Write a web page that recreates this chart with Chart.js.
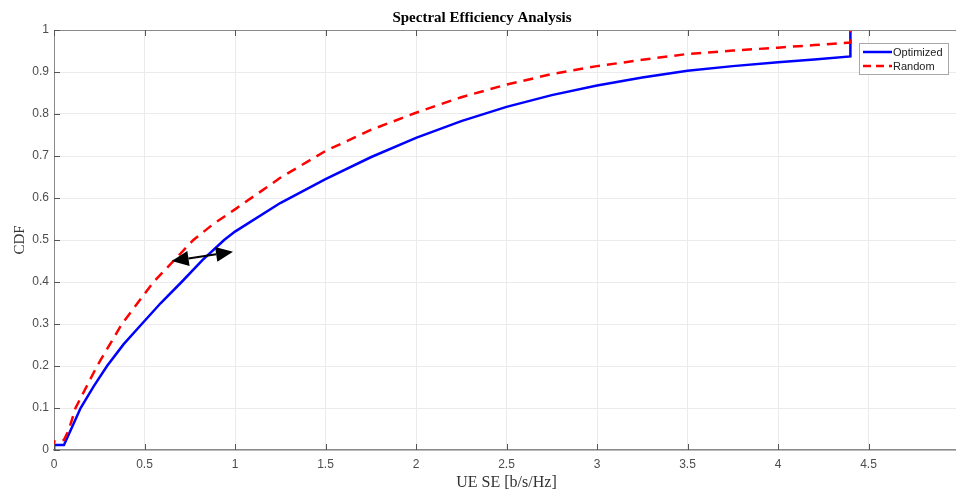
<!DOCTYPE html>
<html>
<head>
<meta charset="utf-8">
<script src="https://cdn.jsdelivr.net/npm/chart.js@4.4.0/dist/chart.umd.min.js"></script>
<style>
  html, body { margin: 0; padding: 0; background: #fff; overflow: hidden; }
</style>
</head>
<body>
<canvas id="seChart" width="966" height="491"></canvas>
<script>
// values
const seOpt  = [0, 0, 0.055, 0.1, 0.147, 0.22, 0.293, 0.385, 0.485, 0.59, 0.705, 0.82, 0.94, 1.0, 1.25, 1.5, 1.75, 2.0, 2.25, 2.5, 2.75, 3.0, 3.25, 3.5, 3.75, 4.0, 4.2, 4.4, 4.4];
const cdfOpt = [0, 0.012, 0.012, 0.055, 0.1, 0.152, 0.2, 0.252, 0.3, 0.35, 0.4, 0.452, 0.5, 0.52, 0.588, 0.645, 0.697, 0.743, 0.783, 0.817, 0.845, 0.868, 0.887, 0.903, 0.914, 0.923, 0.93, 0.937, 1.0];

const seRnd  = [0, 0, 0.055, 0.082, 0.119, 0.238, 0.375, 0.55, 0.66, 0.77, 0.88, 1.0, 1.25, 1.5, 1.75, 2.0, 2.25, 2.5, 2.75, 3.0, 3.25, 3.5, 3.75, 4.0, 4.2, 4.4, 4.4];
const cdfRnd = [0, 0.02, 0.024, 0.048, 0.1, 0.2, 0.3, 0.4, 0.45, 0.5, 0.538, 0.573, 0.648, 0.712, 0.762, 0.803, 0.84, 0.870, 0.895, 0.914, 0.929, 0.943, 0.951, 0.958, 0.964, 0.97, 1.0];

const seriesNames = ['Optimized', 'Random'];
const xTickLabels = ['0', '0.5', '1', '1.5', '2', '2.5', '3', '3.5', '4', '4.5', ''];
const yTickLabels = ['0', '0.1', '0.2', '0.3', '0.4', '0.5', '0.6', '0.7', '0.8', '0.9', '1'];

// double arrow annotation (data coords)
const arrowSE  = [0.65, 0.989];
const arrowCDF = [0.45, 0.472];

function toPoints(xs, ys) {
  return xs.map((v, i) => ({x: v, y: ys[i]}));
}

const axisGray = '#8a8a8a';

// arrow, top border, inward ticks and the boxed legend (matlab look)
const matlabBits = {
  id: 'matlabBits',
  afterDatasetsDraw(chart) {
    const {ctx, chartArea: a, scales: {x, y}} = chart;
    ctx.save();

    // double headed arrow
    const x1 = x.getPixelForValue(arrowSE[0]), y1 = y.getPixelForValue(arrowCDF[0]);
    const x2 = x.getPixelForValue(arrowSE[1]), y2 = y.getPixelForValue(arrowCDF[1]);
    const ang = Math.atan2(y2 - y1, x2 - x1);
    const headLen = 17, headW = 7.5;
    ctx.strokeStyle = '#000';
    ctx.fillStyle = '#000';
    ctx.lineWidth = 2;
    ctx.beginPath();
    ctx.moveTo(x1 + Math.cos(ang) * headLen, y1 + Math.sin(ang) * headLen);
    ctx.lineTo(x2 - Math.cos(ang) * headLen, y2 - Math.sin(ang) * headLen);
    ctx.stroke();
    function head(px, py, dir) {
      const bx = px - Math.cos(dir) * headLen, by = py - Math.sin(dir) * headLen;
      ctx.beginPath();
      ctx.moveTo(px, py);
      ctx.lineTo(bx + Math.sin(dir) * headW, by - Math.cos(dir) * headW);
      ctx.lineTo(bx - Math.sin(dir) * headW, by + Math.cos(dir) * headW);
      ctx.closePath();
      ctx.fill();
    }
    head(x2, y2, ang);
    head(x1, y1, ang + Math.PI);

    // top border
    ctx.strokeStyle = axisGray;
    ctx.lineWidth = 1;
    ctx.beginPath();
    ctx.moveTo(a.left, a.top + 0.5);
    ctx.lineTo(a.right, a.top + 0.5);
    ctx.stroke();

    // inward ticks
    ctx.strokeStyle = '#555';
    ctx.beginPath();
    x.ticks.forEach(t => {
      const px = Math.round(x.getPixelForValue(t.value)) + 0.5;
      ctx.moveTo(px, a.bottom); ctx.lineTo(px, a.bottom - 6);
      ctx.moveTo(px, a.top); ctx.lineTo(px, a.top + 6);
    });
    y.ticks.forEach(t => {
      const py = Math.round(y.getPixelForValue(t.value)) + 0.5;
      ctx.moveTo(a.left, py); ctx.lineTo(a.left + 6, py);
    });
    ctx.stroke();

    // legend box
    const bw = 89, bh = 31;
    const bx = a.right - 11 - bw, by = a.top + 13;
    ctx.fillStyle = '#fff';
    ctx.fillRect(bx, by, bw, bh);
    ctx.strokeStyle = '#a8a8a8';
    ctx.strokeRect(bx + 0.5, by + 0.5, bw, bh);
    chart.data.datasets.forEach((ds, i) => {
      const ly = by + 9 + i * 14;
      ctx.strokeStyle = ds.borderColor;
      ctx.lineWidth = 2.5;
      ctx.setLineDash(ds.borderDash ? [8, 5] : []);
      ctx.beginPath();
      ctx.moveTo(bx + 4, ly);
      ctx.lineTo(bx + 33, ly);
      ctx.stroke();
      ctx.setLineDash([]);
      ctx.fillStyle = '#222';
      ctx.font = '11px "Liberation Sans", Arial, sans-serif';
      ctx.textBaseline = 'middle';
      ctx.textAlign = 'left';
      ctx.fillText(ds.label, bx + 34, ly + 1);
    });
    ctx.restore();
  }
};

const seChart = new Chart(document.getElementById('seChart'), {
  type: 'line',
  data: {
    datasets: [{
      label: seriesNames[0],
      data: toPoints(seOpt, cdfOpt),
      borderColor: '#0000ff',
      borderWidth: 2.5,
      pointRadius: 0,
      tension: 0,
      fill: false,
      order: 1
    }, {
      label: seriesNames[1],
      data: toPoints(seRnd, cdfRnd),
      borderColor: '#ff0000',
      borderWidth: 2.5,
      borderDash: [10, 7],
      pointRadius: 0,
      tension: 0,
      fill: false,
      order: 0
    }]
  },
  options: {
    responsive: false,
    animation: false,
    layout: { padding: { left: 0, right: 2, top: 0, bottom: 0 } },
    plugins: {
      legend: { display: false },
      tooltip: { enabled: false },
      title: {
        display: true,
        text: 'Spectral Efficiency Analysis',
        color: '#000',
        font: { family: '"Liberation Serif", "Times New Roman", serif', size: 15, weight: 'bold', lineHeight: 1.2 },
        padding: { top: 9, bottom: 3 }
      }
    },
    scales: {
      x: {
        type: 'linear',
        min: 0,
        max: 5,
        afterFit: function(scale) { scale.height = 41; },
        grid: { color: '#ebebeb', drawTicks: false, tickLength: 0 },
        border: { color: axisGray, width: 1.5 },
        ticks: {
          stepSize: 0.5,
          autoSkip: false,
          maxRotation: 0,
          padding: 7,
          color: '#4d4d4d',
          font: { family: '"Liberation Sans", Arial, sans-serif', size: 12 },
          callback: function(value, index) { return xTickLabels[index]; }
        },
        title: {
          display: true,
          text: 'UE SE [b/s/Hz]',
          color: '#333',
          font: { family: '"Liberation Serif", "Times New Roman", serif', size: 16, lineHeight: 1 },
          padding: { top: 0, bottom: 0 }
        }
      },
      y: {
        min: 0,
        max: 1,
        afterFit: function(scale) { scale.width = 54; },
        grid: { color: '#ebebeb', drawTicks: false, tickLength: 0 },
        border: { color: axisGray, width: 1 },
        ticks: {
          stepSize: 0.1,
          padding: 5,
          color: '#4d4d4d',
          font: { family: '"Liberation Sans", Arial, sans-serif', size: 12 },
          callback: function(value, index) { return yTickLabels[index]; }
        },
        title: {
          display: true,
          text: 'CDF',
          color: '#333',
          font: { family: '"Liberation Serif", "Times New Roman", serif', size: 15, lineHeight: 1.2 },
          padding: { top: 11, bottom: 0 }
        }
      }
    }
  },
  plugins: [matlabBits]
});
</script>
</body>
</html>
